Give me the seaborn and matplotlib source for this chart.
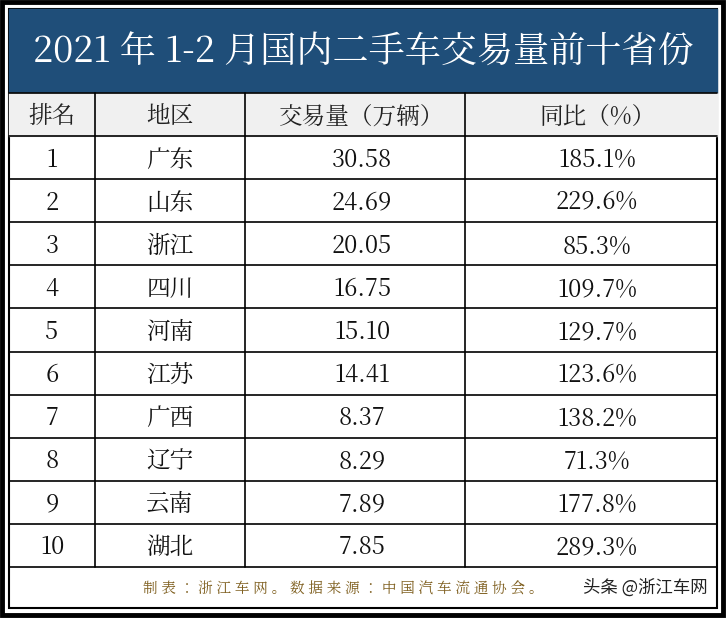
import matplotlib.pyplot as plt
import matplotlib.patches as mpatches
import seaborn as sns

sns.set_theme(style="white")
plt.rcParams['font.family'] = ['Noto Serif CJK JP', 'Noto Serif SC', 'DejaVu Serif']

title = "2021 年 1-2 月国内二手车交易量前十省份"
headers = ["排名", "地区", "交易量（万辆）", "同比（%）"]
ranks = [str(i) for i in range(1, 11)]
regions = ["广东", "山东", "浙江", "四川", "河南", "江苏", "广西", "辽宁", "云南", "湖北"]
volume = [30.58, 24.69, 20.05, 16.75, 15.10, 14.41, 8.37, 8.29, 7.89, 7.85]
yoy = [185.1, 229.6, 85.3, 109.7, 129.7, 123.6, 138.2, 71.3, 177.8, 289.3]
footer = "制表：浙江车网。数据来源：中国汽车流通协会。"

W, H = 726, 619
fig = plt.figure(figsize=(W / 100, H / 100), dpi=100)
ax = fig.add_axes([0, 0, 1, 1])
ax.set_xlim(0, W)
ax.set_ylim(H, 0)
ax.axis('off')

L, R = 9, 717
col_edges = [L, 95, 245, 465, R]
centers = [52, 170, 362, 597]
title_top, head_top, body_top, row_h = 9, 93, 136, 43.1
foot_top = body_top + 10 * row_h
bottom = 608

# outer double border
ax.add_patch(mpatches.Rectangle((2, 2), W - 5, H - 6, fill=False, lw=3.5, ec='black'))
ax.add_patch(mpatches.Rectangle((L, title_top), R - L, bottom - title_top, fill=False, lw=1.5, ec='black'))

# title band
ax.add_patch(mpatches.Rectangle((L, title_top), R - L, head_top - title_top, color='#1F4E79'))
ax.text(W / 2, (title_top + head_top) / 2 + 2, title, color='white', fontsize=26,
        ha='center', va='center')

# header row
ax.add_patch(mpatches.Rectangle((L, head_top), R - L, body_top - head_top, color='#F0F0F0'))
for c, h in zip(centers, headers):
    ax.text(c, (head_top + body_top) / 2 + 2, h, fontsize=17, ha='center', va='center', color='#222222')

# grid lines
ax.plot([L, R], [head_top, head_top], color='black', lw=1.2)
for i in range(11):
    y = body_top + i * row_h
    ax.plot([L, R], [y, y], color='black', lw=1.2)
for x in col_edges[1:-1]:
    ax.plot([x, x], [head_top, foot_top], color='black', lw=1.2)

# body
for i in range(10):
    y = body_top + (i + 0.5) * row_h + 2
    vals = [ranks[i], regions[i], f"{volume[i]:.2f}", f"{yoy[i]:.1f}%"]
    for c, v in zip(centers, vals):
        ax.text(c, y, v, fontsize=17, ha='center', va='center', color='#111111')

# footer
ax.text(143, (foot_top + bottom) / 2 + 1, " ".join(footer), fontsize=10.5,
        ha='left', va='center', color='#7F5F1F')
ax.text(708, (foot_top + bottom) / 2, "头条 @浙江车网", fontsize=12.5, ha='right', va='center',
        color='#222222', family='Noto Sans CJK JP')

fig.savefig('out.png', dpi=100)
